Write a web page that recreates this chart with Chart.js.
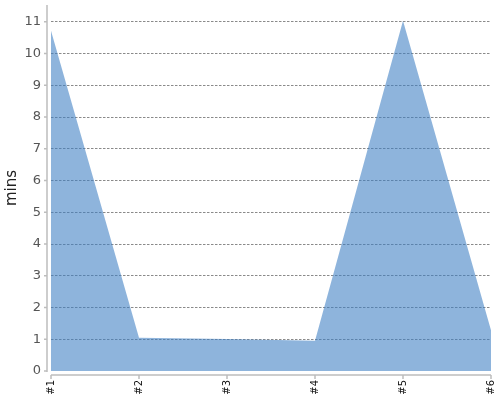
<!DOCTYPE html>
<html>
<head>
<meta charset="utf-8">
<script src="https://cdn.jsdelivr.net/npm/chart.js@4/dist/chart.umd.min.js"></script>
<style>
  html, body { margin: 0; padding: 0; background: #fff; }
  #wrap { width: 500px; height: 400px; }
</style>
</head>
<body>
<div id="wrap"><canvas id="myChart"></canvas></div>
<script>
// data
var labels = ['#1', '#2', '#3', '#4', '#5', '#6'];
var mins = [10.72, 1.05, 1.01, 0.95, 11.03, 1.28];
var yTitle = 'mins';

// axis lines sit a few px away from the plot, like the original
var axisLines = {
    id: 'axisLines',
    afterDraw: function (chart) {
        var ctx = chart.ctx;
        var a = chart.chartArea;
        var x = chart.scales.x;
        ctx.save();
        ctx.strokeStyle = '#bdbdbd';
        ctx.lineWidth = 1.5;
        ctx.beginPath();
        // y axis
        ctx.moveTo(a.left - 4, a.top);
        ctx.lineTo(a.left - 4, a.bottom + 1);
        // x axis
        ctx.moveTo(a.left, a.bottom + 4);
        ctx.lineTo(a.right, a.bottom + 4);
        // x ticks
        for (var i = 0; i < labels.length; i++) {
            var px = x.getPixelForValue(i);
            ctx.moveTo(px, a.bottom + 4);
            ctx.lineTo(px, a.bottom + 8);
        }
        // y ticks
        var y = chart.scales.y;
        for (var v = 0; v <= 11; v++) {
            var py = y.getPixelForValue(v);
            ctx.moveTo(a.left - 7, py);
            ctx.lineTo(a.left - 4, py);
        }
        ctx.stroke();
        ctx.restore();
    }
};

function noPad(s) {
    s.paddingTop = 0;
    s.paddingBottom = 0;
    s.paddingLeft = 0;
    s.paddingRight = 0;
}

var ctx1 = document.getElementById('myChart').getContext('2d');
var myChart = new Chart(ctx1, {
    type: 'line',
    data: {
        labels: labels,
        datasets: [{
            label: yTitle,
            data: mins,
            fill: 'origin',
            backgroundColor: 'rgba(60, 125, 195, 0.58)',
            borderWidth: 0,
            pointRadius: 0,
            tension: 0
        }]
    },
    options: {
        responsive: true,
        maintainAspectRatio: false,
        animation: false,
        layout: { autoPadding: false, padding: { top: 5, right: 9, left: 0, bottom: 0 } },
        plugins: {
            legend: { display: false },
            tooltip: { enabled: false }
        },
        scales: {
            x: {
                offset: false,
                grid: { display: false, drawTicks: false },
                border: { display: false },
                ticks: {
                    color: '#111',
                    font: { family: 'DejaVu Sans', size: 10 },
                    minRotation: 90,
                    maxRotation: 90,
                    padding: 9,
                    autoSkip: false
                },
                afterFit: function (s) { s.height = 29; noPad(s); }
            },
            y: {
                min: 0,
                max: 11.53,
                grid: {
                    color: function (c) {
                        return c.tick && c.tick.value === 0 ? 'rgba(0,0,0,0)' : '#8a8a8a';
                    },
                    lineWidth: 1,
                    drawTicks: false
                },
                border: { display: false, dash: [2.5, 1.5] },
                ticks: {
                    stepSize: 1,
                    includeBounds: false,
                    color: '#555',
                    font: { family: 'DejaVu Sans', size: 13 },
                    padding: 10
                },
                title: {
                    display: true,
                    text: yTitle,
                    color: '#222',
                    font: { family: 'DejaVu Sans', size: 15 },
                    padding: { top: 3, bottom: 0 }
                },
                afterFit: function (s) { s.width = 51; noPad(s); }
            }
        }
    },
    plugins: [axisLines]
});
</script>
</body>
</html>
